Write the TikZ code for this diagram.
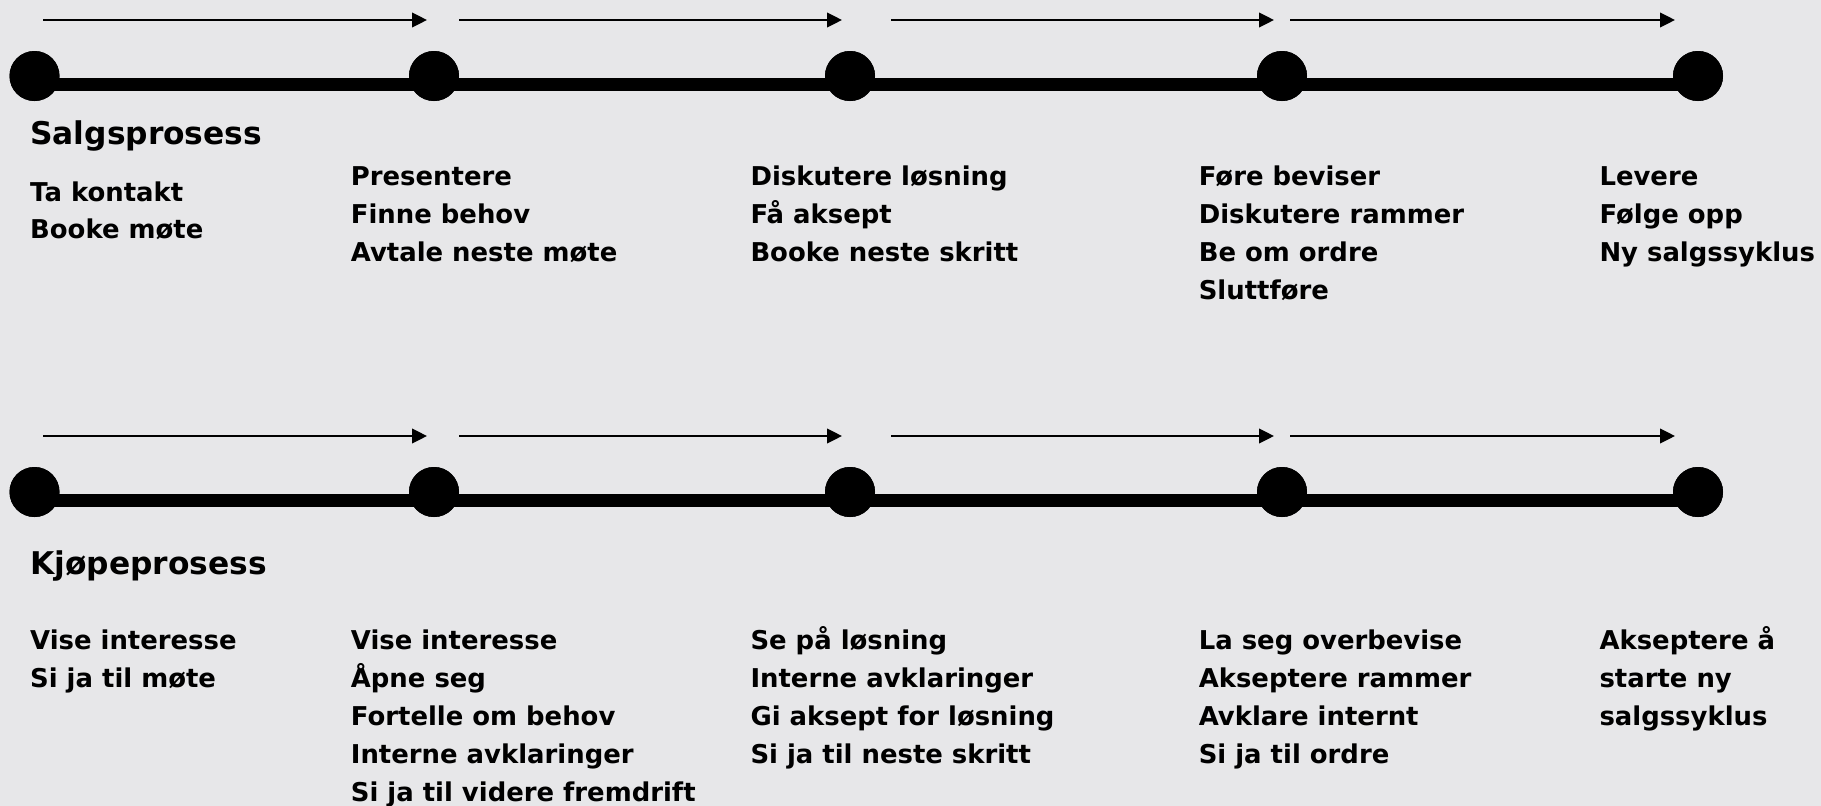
\documentclass[tikz,border=0pt]{standalone}
\usepackage{fontspec}
\setmainfont{DejaVu Sans}
\usetikzlibrary{arrows.meta}
\definecolor{bgcol}{RGB}{231,231,233}
\tikzset{
  dot/.style={circle,fill=black,inner sep=0pt,minimum size=50pt},
  railline/.style={line width=13pt,black},
  steparrow/.style={line width=2.2pt,black,-{Triangle[length=15pt,width=14.6pt]}},
  titletext/.style={anchor=base west,inner sep=0pt,font=\fontsize{31.3}{38}\selectfont\bfseries},
  itemtext/.style={anchor=base west,inner sep=0pt,font=\fontsize{25.9}{38}\selectfont\bfseries}
}
\begin{document}
\begin{tikzpicture}[x=1pt,y=-1pt]
\fill[bgcol] (0,0) rectangle (1821,806);
\useasboundingbox (0,0) rectangle (1821,806);

% ---------- Salgsprosess row ----------
\foreach \x [count=\i] in {34.5,434,850,1282,1698} {
  \node[dot] (s\i) at (\x,76) {};
}
\draw[railline] ([yshift=-8pt]s1.center) -- ([yshift=-8pt]s5.center);
\foreach \i in {1,...,5} { \fill (s\i) circle[radius=25pt]; }

\coordinate (sa1) at (43,20);   \coordinate (sb1) at (427,20);
\coordinate (sa2) at (459,20);  \coordinate (sb2) at (842,20);
\coordinate (sa3) at (891,20);  \coordinate (sb3) at (1274,20);
\coordinate (sa4) at (1290,20); \coordinate (sb4) at (1675,20);
\foreach \i in {1,...,4} { \draw[steparrow] (sa\i) -- (sb\i); }

\node[titletext] (stitle) at (30,144) {Salgsprosess};

\foreach \t [count=\k] in {Ta kontakt,Booke møte}
  \node[itemtext] (sc1-\k) at (30,{201+37.8*(\k-1)}) {\t};
\foreach \t [count=\k] in {Presentere,Finne behov,Avtale neste møte}
  \node[itemtext] (sc2-\k) at (350.7,{185.6+38*(\k-1)}) {\t};
\foreach \t [count=\k] in {Diskutere løsning,Få aksept,Booke neste skritt}
  \node[itemtext] (sc3-\k) at (750.3,{185.6+38*(\k-1)}) {\t};
\foreach \t [count=\k] in {Føre beviser,Diskutere rammer,Be om ordre,Sluttføre}
  \node[itemtext] (sc4-\k) at (1198.6,{185.6+38*(\k-1)}) {\t};
\foreach \t [count=\k] in {Levere,Følge opp,Ny salgssyklus}
  \node[itemtext] (sc5-\k) at (1599.3,{185.6+38*(\k-1)}) {\t};

% ---------- Kjøpeprosess row ----------
\foreach \x [count=\i] in {34.5,434,850,1282,1698} {
  \node[dot] (k\i) at (\x,492) {};
}
\draw[railline] ([yshift=-8.5pt]k1.center) -- ([yshift=-8.5pt]k5.center);
\foreach \i in {1,...,5} { \fill (k\i) circle[radius=25pt]; }

\coordinate (ka1) at (43,436);   \coordinate (kb1) at (427,436);
\coordinate (ka2) at (459,436);  \coordinate (kb2) at (842,436);
\coordinate (ka3) at (891,436);  \coordinate (kb3) at (1274,436);
\coordinate (ka4) at (1290,436); \coordinate (kb4) at (1675,436);
\foreach \i in {1,...,4} { \draw[steparrow] (ka\i) -- (kb\i); }

\node[titletext] (ktitle) at (30,574.5) {Kjøpeprosess};

\foreach \t [count=\k] in {Vise interesse,Si ja til møte}
  \node[itemtext] (kc1-\k) at (30,{649.3+38*(\k-1)}) {\t};
\foreach \t [count=\k] in {Vise interesse,Åpne seg,Fortelle om behov,Interne avklaringer,Si ja til videre fremdrift}
  \node[itemtext] (kc2-\k) at (350.7,{649.3+38*(\k-1)}) {\t};
\foreach \t [count=\k] in {Se på løsning,Interne avklaringer,Gi aksept for løsning,Si ja til neste skritt}
  \node[itemtext] (kc3-\k) at (750.3,{649.3+38*(\k-1)}) {\t};
\foreach \t [count=\k] in {La seg overbevise,Akseptere rammer,Avklare internt,Si ja til ordre}
  \node[itemtext] (kc4-\k) at (1198.6,{649.3+38*(\k-1)}) {\t};
\foreach \t [count=\k] in {Akseptere å,starte ny,salgssyklus}
  \node[itemtext] (kc5-\k) at (1599.3,{649.3+38*(\k-1)}) {\t};
\end{tikzpicture}
\end{document}
